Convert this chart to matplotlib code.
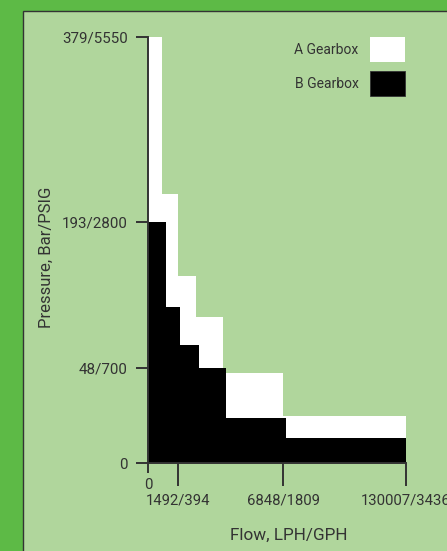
import numpy as np
import matplotlib
matplotlib.use("Agg")
import matplotlib.pyplot as plt
from matplotlib.patches import Rectangle, Patch

plt.rcParams['font.family'] = ['Roboto', 'DejaVu Sans']

# ---- data (flow in LPH, pressure in bar) ----
a_edges = [0, 710, 1492, 2440, 3770, 3944, 6848, 130007]
a_pressure = [380, 221, 139, 98, 0, 45.5, 24]
b_edges = [0, 900, 1613, 2556, 3944, 9170, 130007]
b_pressure = [193, 108, 71, 48, 23, 12.5]

x_ticks = [1492, 6848, 130007]
x_tick_labels = ['1492/394', '6848/1809', '130007/3436']
y_ticks = [0, 48, 193, 379]
y_tick_labels = ['0', '48/700', '193/2800', '379/5550']
series_labels = ['A Gearbox', 'B Gearbox']

# ---- piecewise (schematic) axis scales ----
X_BREAKS = [0, 1492, 6848, 130007]
X_MAP = [0, 29.3, 135.0, 257.7]
Y_BREAKS = [0, 48, 193, 380]
Y_MAP = [0, 95.7, 242.3, 427.7]


def _fwd(b, m):
    return lambda v: np.interp(v, b, m)


def _inv(b, m):
    return lambda v: np.interp(v, m, b)


OUTER = '#5dba46'
INNER = '#b0d69c'
INK = '#333333'

W, H = 447, 551
fig = plt.figure(figsize=(W / 100, H / 100), dpi=100, facecolor=OUTER)

fig.patches.append(Rectangle((22.7 / W, -0.1), 1.2, 1.1 - 11.5 / H,
                             transform=fig.transFigure, facecolor=INNER,
                             edgecolor=INK, linewidth=1.0, zorder=-10))

ax_l, ax_r, ax_t, ax_b = 148.3, 406.0, 36.5, 463.3
ax = fig.add_axes([ax_l / W, 1 - ax_b / H, (ax_r - ax_l) / W, (ax_b - ax_t) / H])
ax.set_facecolor('none')
ax.set_xscale('function', functions=(_fwd(X_BREAKS, X_MAP), _inv(X_BREAKS, X_MAP)))
ax.set_yscale('function', functions=(_fwd(Y_BREAKS, Y_MAP), _inv(Y_BREAKS, Y_MAP)))

ax.stairs(a_pressure, a_edges, fill=True, baseline=0, color='white',
          linewidth=0, label=series_labels[0], zorder=1)
ax.stairs(b_pressure, b_edges, fill=True, baseline=0, color='black',
          linewidth=0, label=series_labels[1], zorder=2)

ax.set_xlim(0, 130007)
ax.set_ylim(0, 380)

for s in ['top', 'right']:
    ax.spines[s].set_visible(False)
for s in ['left', 'bottom']:
    ax.spines[s].set_color(INK)
    ax.spines[s].set_linewidth(1.4)
    ax.spines[s].set_zorder(3)

ax.set_xticks(x_ticks, labels=x_tick_labels)
ax.set_xticks([0], labels=['0'], minor=True)
ax.set_yticks(y_ticks, labels=y_tick_labels)
ax.yaxis.set_minor_locator(matplotlib.ticker.NullLocator())

ax.tick_params(axis='x', which='major', length=16.6, width=1.4, color=INK,
               labelcolor=INK, labelsize=10.7, pad=5)
ax.tick_params(axis='x', which='minor', length=7.2, width=1.4, color=INK,
               labelcolor=INK, labelsize=10.7, pad=3.5)
ax.tick_params(axis='y', which='major', length=8.6, width=1.4, color=INK,
               labelcolor=INK, labelsize=10.9, pad=6.3)

fig.text(46 / W, 1 - 257 / H, 'Pressure, Bar/PSIG', rotation=90,
         ha='center', va='center', fontsize=12, color=INK)
fig.text(289 / W, 1 - 539.5 / H, 'Flow, LPH/GPH', ha='center',
         va='baseline', fontsize=12.3, color=INK)

handles = [Patch(facecolor='white', edgecolor='none'),
           Patch(facecolor='black', edgecolor=INK, linewidth=0.6)]
leg = ax.legend(handles, series_labels, loc='upper right',
                bbox_to_anchor=((405.5 - ax_l) / (ax_r - ax_l), (ax_b - 37) / (ax_b - ax_t)),
                frameon=False, markerfirst=False, fontsize=10,
                handlelength=2.59, handleheight=2.39, handletextpad=0.8,
                labelspacing=0.65, borderpad=0, borderaxespad=0,
                labelcolor=INK)

fig.savefig('out.png', dpi=100, facecolor=fig.get_facecolor())
